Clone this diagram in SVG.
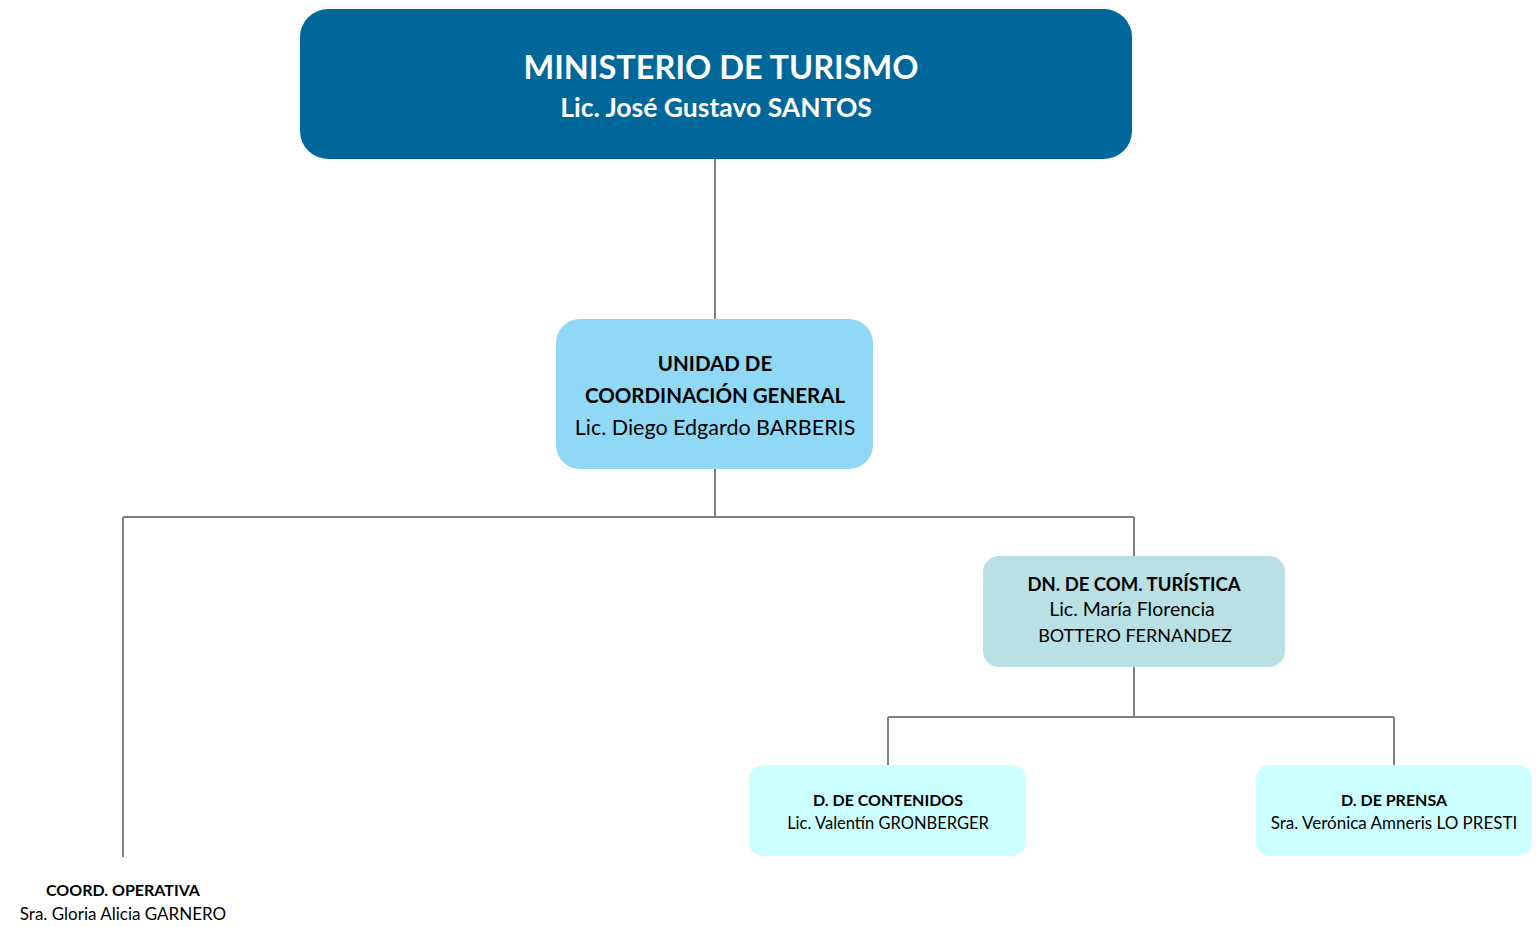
<svg xmlns="http://www.w3.org/2000/svg" width="1536" height="927" viewBox="0 0 1536 927">
<style>
.t{font-family:Lato,"Open Sans","Liberation Sans",sans-serif;text-anchor:middle;fill:#000}
.b{font-weight:bold}
.w{fill:#fff}
.c{stroke:#7f7f7f;stroke-width:2;fill:none}
</style>
<rect width="1536" height="927" fill="#fff"/>
<g id="connectors">
<path class="c" d="M715 159V319M715 469V517M123 517H1134M123 517V857M1134 517V556M1134 667V717M888 717H1394M888 717V765M1394 717V765"/>
</g>
<g id="ministerio">
<rect x="300" y="9" width="832" height="150" rx="28" fill="#00679a"/>
<text class="t b w" x="721" y="79" font-size="32.5">MINISTERIO DE TURISMO</text>
<text class="t b w" x="716" y="117" font-size="26.5">Lic. José Gustavo SANTOS</text>
</g>
<g id="unidad">
<rect x="556" y="319" width="317" height="150" rx="24" fill="#8fd9f7"/>
<text class="t b" x="715" y="371" font-size="20.5">UNIDAD DE</text>
<text class="t b" x="715" y="403" font-size="20.5">COORDINACIÓN GENERAL</text>
<text class="t" x="715" y="435" font-size="21.5">Lic. Diego Edgardo BARBERIS</text>
</g>
<g id="dn-com">
<rect x="983" y="556" width="302" height="111" rx="16" fill="#b9e0e4"/>
<text class="t b" x="1134" y="591" font-size="18.5">DN. DE COM. TURÍSTICA</text>
<text class="t" x="1132" y="616" font-size="19.5">Lic. María Florencia</text>
<text class="t" x="1135" y="642" font-size="18">BOTTERO FERNANDEZ</text>
</g>
<g id="contenidos">
<rect x="749" y="765" width="277" height="91" rx="14" fill="#ccffff"/>
<text class="t b" x="888" y="806" font-size="16">D. DE CONTENIDOS</text>
<text class="t" x="888" y="829" font-size="16.5">Lic. Valentín GRONBERGER</text>
</g>
<g id="prensa">
<rect x="1256" y="765" width="276" height="91" rx="14" fill="#ccffff"/>
<text class="t b" x="1394" y="806" font-size="16">D. DE PRENSA</text>
<text class="t" x="1394" y="829" font-size="17">Sra. Verónica Amneris LO PRESTI</text>
</g>
<g id="coord-operativa">
<text class="t b" x="123" y="896" font-size="16">COORD. OPERATIVA</text>
<text class="t" x="123" y="920" font-size="17">Sra. Gloria Alicia GARNERO</text>
</g>
</svg>
